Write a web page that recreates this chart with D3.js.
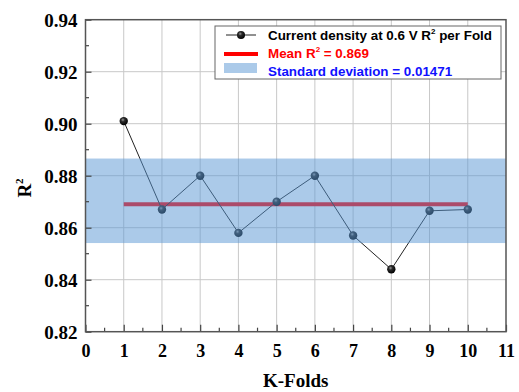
<!DOCTYPE html>
<html>
<head>
<meta charset="utf-8">
<script src="https://cdn.jsdelivr.net/npm/d3@7"></script>
<style>
  html, body { margin: 0; padding: 0; background: #fff; }
  svg { display: block; }
</style>
</head>
<body>
<svg id="chart" width="519" height="392"></svg>
<script>
// R² of the current density at 0.6 V for each cross-validation fold
const folds = [1, 2, 3, 4, 5, 6, 7, 8, 9, 10];
const r2 = [0.901, 0.867, 0.880, 0.858, 0.870, 0.880, 0.857, 0.844, 0.8665, 0.867];
const meanR2 = 0.869;
const stdDev = 0.01471;
const bandBounds = [0.8541, 0.8866];
const xTicks = [0, 1, 2, 3, 4, 5, 6, 7, 8, 9, 10, 11];
const yTicks = [0.82, 0.84, 0.86, 0.88, 0.90, 0.92, 0.94];

const svg = d3.select("#chart");
const plotL = 85.5, plotR = 506, plotT = 19.7, plotB = 331.7;

const x = d3.scaleLinear().domain([0, 11]).range([plotL, plotR]);
const y = d3.scaleLinear().domain([0.82, 0.94]).range([plotB, plotT]);

const serif = "'Liberation Serif', 'Times New Roman', serif";
const sans = "'Liberation Sans', Arial, sans-serif";
const bandFill = "rgb(88,150,212)";

// sphere look for the markers
const defs = svg.append("defs");
const grad = defs.append("radialGradient").attr("id", "ball")
  .attr("cx", "40%").attr("cy", "35%").attr("r", "65%");
grad.append("stop").attr("offset", "0%").attr("stop-color", "#9a9a9a");
grad.append("stop").attr("offset", "35%").attr("stop-color", "#2a2a2a");
grad.append("stop").attr("offset", "100%").attr("stop-color", "#000");

// grid
const grid = svg.append("g").attr("stroke", "#c8c8c8").attr("stroke-width", 1);
grid.selectAll("line.gx").data(d3.range(1, 11)).join("line")
  .attr("x1", d => x(d)).attr("x2", d => x(d)).attr("y1", plotT).attr("y2", plotB);
grid.selectAll("line.gy").data(yTicks.slice(1, -1)).join("line")
  .attr("x1", plotL).attr("x2", plotR).attr("y1", d => y(d)).attr("y2", d => y(d));

// mean line
svg.append("line")
  .attr("x1", x(folds[0])).attr("x2", x(folds[folds.length - 1]))
  .attr("y1", y(meanR2)).attr("y2", y(meanR2))
  .attr("stroke", "#ff0000").attr("stroke-width", 4);

// per-fold line and markers
svg.append("path")
  .datum(folds.map((f, i) => [f, r2[i]]))
  .attr("fill", "none").attr("stroke", "#222").attr("stroke-width", 1)
  .attr("d", d3.line().x(d => x(d[0])).y(d => y(d[1])));
svg.append("g").selectAll("circle").data(folds).join("circle")
  .attr("cx", d => x(d)).attr("cy", (d, i) => y(r2[i])).attr("r", 4.2)
  .attr("fill", "url(#ball)");

// standard deviation band, translucent over everything
svg.append("rect")
  .attr("x", plotL).attr("width", plotR - plotL)
  .attr("y", y(bandBounds[1])).attr("height", y(bandBounds[0]) - y(bandBounds[1]))
  .attr("fill", bandFill).attr("fill-opacity", 0.5);

// axes with inward ticks
const yAxis = d3.axisLeft(y).tickValues(yTicks).tickSize(-6).tickPadding(8)
  .tickFormat(d3.format(".2f"));
const gy = svg.append("g").attr("transform", `translate(${plotL},0)`).call(yAxis);
gy.select(".domain").remove();
gy.selectAll(".tick line").attr("stroke", "#444").attr("stroke-width", 1.2);
gy.selectAll(".tick text").attr("font-family", serif).attr("font-weight", "bold")
  .attr("font-size", 19).attr("fill", "#000").attr("dy", "0.35em");
gy.selectAll("line.minor").data(d3.range(0.83, 0.94, 0.02)).join("line")
  .attr("class", "minor").attr("x1", 0).attr("x2", 3.5)
  .attr("y1", d => y(d)).attr("y2", d => y(d)).attr("stroke", "#444").attr("stroke-width", 1.2);

const xAxis = d3.axisBottom(x).tickValues(xTicks).tickSize(-7).tickPadding(13)
  .tickFormat(d3.format("d"));
const gx = svg.append("g").attr("transform", `translate(0,${plotB})`).call(xAxis);
gx.select(".domain").remove();
gx.selectAll(".tick line").attr("stroke", "#444").attr("stroke-width", 1.2);
gx.selectAll(".tick text").attr("font-family", serif).attr("font-weight", "bold")
  .attr("font-size", 18).attr("fill", "#000");
gx.selectAll("line.minor").data(d3.range(0.5, 11, 1)).join("line")
  .attr("class", "minor").attr("x1", d => x(d)).attr("x2", d => x(d))
  .attr("y1", 0).attr("y2", -4).attr("stroke", "#444").attr("stroke-width", 1.2);

// frame
svg.append("rect").attr("x", plotL).attr("y", plotT)
  .attr("width", plotR - plotL).attr("height", plotB - plotT)
  .attr("fill", "none").attr("stroke", "#555").attr("stroke-width", 1.5);

// axis titles
svg.append("text").attr("x", (plotL + plotR) / 2).attr("y", 387)
  .attr("text-anchor", "middle").attr("font-family", serif).attr("font-weight", "bold")
  .attr("font-size", 19).text("K-Folds");
const yt = svg.append("text").attr("transform", "translate(31,188) rotate(-90)")
  .attr("text-anchor", "middle").attr("font-family", serif).attr("font-weight", "bold")
  .attr("font-size", 19);
yt.append("tspan").text("R");
yt.append("tspan").attr("font-size", 11).attr("dy", -8).text("2");

// legend
const lg = svg.append("g");
lg.append("rect").attr("x", 215).attr("y", 26).attr("width", 286).attr("height", 53)
  .attr("fill", "#fff").attr("stroke", "#666").attr("stroke-width", 1);
lg.append("line").attr("x1", 226).attr("x2", 256).attr("y1", 35).attr("y2", 35)
  .attr("stroke", "#222").attr("stroke-width", 1);
lg.append("circle").attr("cx", 241).attr("cy", 35).attr("r", 4).attr("fill", "url(#ball)");
lg.append("line").attr("x1", 224).attr("x2", 258).attr("y1", 54).attr("y2", 54)
  .attr("stroke", "#ff0000").attr("stroke-width", 4);
lg.append("rect").attr("x", 224).attr("y", 63).attr("width", 33).attr("height", 10)
  .attr("fill", bandFill).attr("fill-opacity", 0.5);

const fs = 13.4;
const t1 = lg.append("text").attr("x", 268).attr("y", 40).attr("font-family", sans)
  .attr("font-weight", "bold").attr("font-size", fs).attr("fill", "#000");
t1.append("tspan").text("Current density at 0.6 V R");
t1.append("tspan").attr("font-size", 8).attr("dy", -6).text("2");
t1.append("tspan").attr("dy", 6).text(" per Fold");

const t2 = lg.append("text").attr("x", 268).attr("y", 58).attr("font-family", sans)
  .attr("font-weight", "bold").attr("font-size", fs).attr("fill", "#ff0000");
t2.append("tspan").text("Mean R");
t2.append("tspan").attr("font-size", 8).attr("dy", -6).text("2");
t2.append("tspan").attr("dy", 6).text(` = ${d3.format(".3f")(meanR2)}`);

lg.append("text").attr("x", 268).attr("y", 76).attr("font-family", sans)
  .attr("font-weight", "bold").attr("font-size", fs).attr("fill", "#1010ff")
  .text(`Standard deviation = ${stdDev}`);
</script>
</body>
</html>
